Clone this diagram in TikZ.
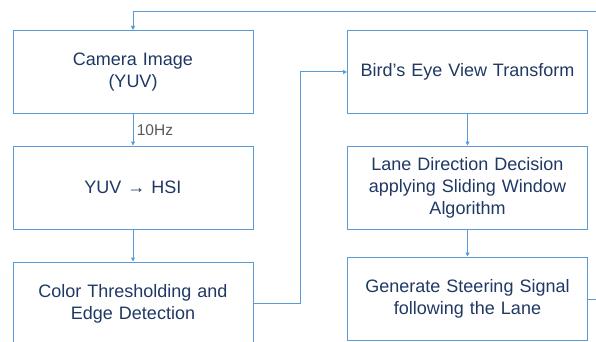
\documentclass[tikz,border=0pt]{standalone}
\usepackage{fontspec}
\setmainfont{Liberation Sans}
\usepackage{tikz}
\usetikzlibrary{arrows.meta}
\usepackage{xcolor}
\definecolor{boxblue}{HTML}{5B9BD5}
\definecolor{arrowblue}{HTML}{2E75B6}
\definecolor{textnavy}{HTML}{1F3864}
\definecolor{labelgray}{HTML}{595959}

\begin{document}
\begin{tikzpicture}[x=1pt, y=-1pt,
    stage/.style={draw=boxblue, line width=1pt, rectangle, minimum width=240pt,
        minimum height=83pt, text width=230pt, align=center, text=textnavy,
        font=\fontsize{18}{22}\selectfont},
    flow/.style={draw=boxblue, line width=1pt,
        -{Triangle[length=4pt, width=4pt, fill=arrowblue]}}]
    \useasboundingbox (0,0) rectangle (596,342);
    \clip (0,0) rectangle (596,342);

    % Left column
    \node[stage] (camera) at (133,72) {Camera Image\\(YUV)};
    \node[stage] (hsi) at (133,187.5) {YUV → HSI};
    \node[stage, minimum height=84pt] (thresh) at (133,304) {Color Thresholding and\\Edge Detection};

    % Right column
    \node[stage] (bev) at (467.5,72) {Bird’s Eye View Transform};
    \node[stage] (lane) at (467.5,187.5) {Lane Direction Decision\\applying Sliding Window\\Algorithm};
    \node[stage] (steer) at (467.5,298.5) {Generate Steering Signal\\following the Lane};

    % Corners of the feedback loop
    \coordinate (loopright) at (610,12);
    \coordinate (looptop) at (133,12);

    % Connectors
    \draw[flow] (camera) -- node[right, text=labelgray, font=\fontsize{15.5}{18}\selectfont] {10Hz} (hsi);
    \draw[flow] (hsi) -- (thresh);
    \draw[flow] (thresh.east |- 0,303) -| (300,72) -- (bev.west);
    \draw[flow] (bev) -- (lane);
    \draw[flow] (lane) -- (steer);
    \draw[flow] (steer.east |- 0,299) -| (loopright) -- (looptop) -- (camera.north);
\end{tikzpicture}
\end{document}
